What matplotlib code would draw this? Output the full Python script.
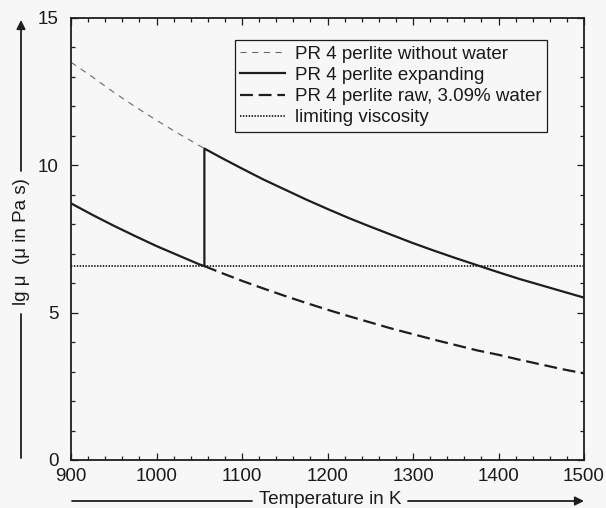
import matplotlib
matplotlib.use("Agg")
import matplotlib.pyplot as plt
from matplotlib.ticker import MultipleLocator

plt.rcParams['font.family'] = ['Liberation Sans', 'DejaVu Sans']

# ---- data ----
T_dry = [900, 925, 950, 975, 1000, 1025, 1050, 1056]
lg_dry = [13.50, 13.00, 12.48, 11.99, 11.53, 11.09, 10.67, 10.57]

T_exp = [900, 925, 950, 975, 1000, 1025, 1050, 1056, 1056, 1075, 1100, 1125, 1150,
         1175, 1200, 1225, 1250, 1275, 1300, 1325, 1350, 1375, 1400, 1425, 1450, 1475, 1500]
lg_exp = [8.71, 8.32, 7.95, 7.60, 7.26, 6.95, 6.64, 6.58, 10.57, 10.27, 9.89, 9.52, 9.18,
          8.84, 8.52, 8.21, 7.92, 7.64, 7.36, 7.10, 6.85, 6.61, 6.37, 6.14, 5.93, 5.72, 5.51]

T_raw = [1056, 1075, 1100, 1125, 1150, 1175, 1200, 1225, 1250, 1275, 1300, 1325,
         1350, 1375, 1400, 1425, 1450, 1475, 1500]
lg_raw = [6.58, 6.36, 6.08, 5.82, 5.57, 5.33, 5.10, 4.88, 4.67, 4.46, 4.27, 4.08,
          3.90, 3.72, 3.57, 3.40, 3.24, 3.08, 2.94]

T_lim = [900, 1500]
lg_lim = [6.58, 6.58]

labels = ["PR 4 perlite without water", "PR 4 perlite expanding",
          "PR 4 perlite raw, 3.09% water", "limiting viscosity"]
xticks = [900, 1000, 1100, 1200, 1300, 1400, 1500]
yticks = [0, 5, 10, 15]

bg = '#f7f7f7'
ink = '#1e1e1e'
txt = '#1a1a1a'
fs = 13.5

fig = plt.figure(figsize=(6.06, 5.08), dpi=100, facecolor=bg)
W, H = 606, 508
ax = fig.add_axes([71 / W, 1 - 460 / H, (584 - 71) / W, (460 - 18) / H], facecolor=bg)

ax.plot(T_dry, lg_dry, color='#6a6a6a', lw=0.8, dashes=(5.5, 5.0), label=labels[0])
ax.plot(T_exp, lg_exp, color=ink, lw=1.6, label=labels[1])
ax.plot(T_raw, lg_raw, color=ink, lw=1.6, dashes=(5.8, 2.6), label=labels[2])
ax.plot(T_lim, lg_lim, color=ink, lw=1.3, dashes=(0.8, 0.8), label=labels[3])

ax.set_xlim(900, 1500)
ax.set_ylim(0, 15)
ax.set_xticks(xticks)
ax.set_yticks(yticks)
ax.xaxis.set_minor_locator(MultipleLocator(20))
ax.yaxis.set_minor_locator(MultipleLocator(1))
ax.tick_params(which='both', direction='in', top=True, right=True, color=ink, width=0.9)
ax.tick_params(which='major', length=5)
ax.tick_params(which='minor', length=3)
ax.tick_params(axis='x', which='major', labelsize=fs, pad=6, labelcolor=txt)
ax.tick_params(axis='y', which='major', labelsize=fs, pad=9, labelcolor=txt)
for s in ax.spines.values():
    s.set_color(ink)
    s.set_linewidth(1.3)

leg = ax.legend(loc='upper right', bbox_to_anchor=((547 - 71) / 513, (460 - 40) / 442),
                borderaxespad=0, fontsize=fs, frameon=True, fancybox=False,
                edgecolor=ink, facecolor=bg, framealpha=1, handlelength=2.4,
                handletextpad=0.5, labelspacing=0.22, borderpad=0.3)
leg.get_frame().set_linewidth(0.9)
for t in leg.get_texts():
    t.set_color(txt)

# axis labels with arrow lines
fig.text(21 / W, 1 - 242 / H, "lg \u03bc  (\u03bc in Pa s)", rotation=90, ha='center', va='center',
         fontsize=fs, color=txt)
fig.text(330 / W, 1 - 500 / H, "Temperature in K", ha='center', va='center',
         fontsize=fs, color=txt)

def fline(x0, y0, x1, y1, arrow=False):
    ax.annotate('', xy=(x1 / W, 1 - y1 / H), xytext=(x0 / W, 1 - y0 / H),
                xycoords='figure fraction', textcoords='figure fraction',
                arrowprops=dict(arrowstyle='-|>' if arrow else '-', color=ink, lw=1.3,
                                mutation_scale=13, shrinkA=0, shrinkB=0))

fline(21, 458, 21, 314)
fline(21, 171, 21, 20, arrow=True)
fline(72, 501, 252, 501)
fline(408, 501, 584, 501, arrow=True)

fig.savefig('out.png', dpi=100, facecolor=bg)
